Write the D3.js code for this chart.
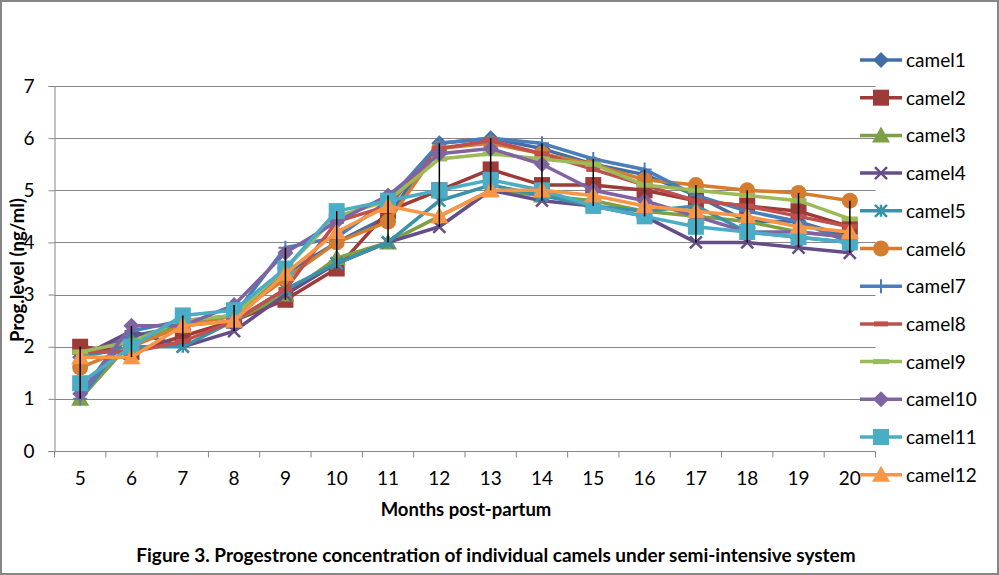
<!DOCTYPE html>
<html>
<head>
<meta charset="utf-8">
<script src="https://cdn.jsdelivr.net/npm/d3@7"></script>
<style>
  body { margin: 0; background: #fff; }
  text { font-family: Lato, "Open Sans", sans-serif; fill: #000; }
</style>
</head>
<body>
<div id="chart"></div>
<script>
// months post-partum
var months = [5, 6, 7, 8, 9, 10, 11, 12, 13, 14, 15, 16, 17, 18, 19, 20];
var yTicks = [0, 1, 2, 3, 4, 5, 6, 7];

// progesterone level (ng/ml) per camel
var camel1  = [1.8, 2.2, 2.4, 2.6, 3.4, 4.0, 4.5, 5.9, 6.0, 5.8, 5.5, 5.3, 4.9, 4.4, 4.4, 4.1];
var camel2  = [2.0, 1.9, 2.2, 2.5, 2.9, 3.5, 4.6, 5.0, 5.4, 5.1, 5.1, 5.0, 4.8, 4.7, 4.6, 4.3];
var camel3  = [1.0, 2.1, 2.4, 2.5, 3.0, 3.7, 4.0, 4.5, 5.0, 4.9, 4.8, 4.6, 4.5, 4.4, 4.2, 4.1];
var camel4  = [1.8, 2.3, 2.0, 2.3, 3.0, 3.6, 4.0, 4.3, 5.0, 4.8, 4.7, 4.5, 4.0, 4.0, 3.9, 3.8];
var camel5  = [1.8, 2.0, 2.0, 2.5, 3.1, 3.6, 4.0, 4.8, 5.1, 4.9, 4.7, 4.6, 4.7, 4.2, 4.1, 4.0];
var camel6  = [1.6, 2.0, 2.4, 2.6, 3.3, 4.0, 4.4, 5.8, 5.9, 5.7, 5.5, 5.2, 5.1, 5.0, 4.95, 4.8];
var camel7  = [1.0, 2.3, 2.5, 2.6, 3.9, 4.1, 4.8, 5.9, 6.0, 5.9, 5.6, 5.4, 4.9, 4.6, 4.4, 4.0];
var camel8  = [1.9, 1.9, 2.1, 2.5, 3.1, 4.4, 4.7, 5.8, 5.95, 5.7, 5.4, 5.1, 4.8, 4.7, 4.5, 4.3];
var camel9  = [1.9, 2.1, 2.5, 2.6, 3.5, 4.5, 4.8, 5.6, 5.7, 5.6, 5.5, 5.1, 5.0, 4.9, 4.8, 4.45];
var camel10 = [1.1, 2.4, 2.4, 2.8, 3.8, 4.4, 4.9, 5.7, 5.8, 5.5, 5.0, 4.8, 4.5, 4.2, 4.2, 4.1];
var camel11 = [1.3, 2.0, 2.6, 2.7, 3.5, 4.6, 4.8, 5.0, 5.2, 5.0, 4.7, 4.5, 4.3, 4.2, 4.1, 4.0];
var camel12 = [1.8, 1.8, 2.4, 2.5, 3.4, 4.2, 4.7, 4.5, 5.0, 5.0, 4.9, 4.7, 4.6, 4.5, 4.3, 4.2];

var names   = ["camel1", "camel2", "camel3", "camel4", "camel5", "camel6",
               "camel7", "camel8", "camel9", "camel10", "camel11", "camel12"];
var colors  = ["#426EA6", "#9E3A37", "#7F9F46", "#654E88", "#3A92A8", "#D47D31",
               "#4A7EBB", "#C0504D", "#9BBB59", "#8064A2", "#4BACC6", "#F79646"];
var markers = ["diamond", "square", "triangle", "x", "star", "circle",
               "plus", "dash", "longdash", "diamond", "square", "triangle"];

var allData = [camel1, camel2, camel3, camel4, camel5, camel6,
               camel7, camel8, camel9, camel10, camel11, camel12];

var w = 999;
var h = 575;

var svg = d3.select("#chart")
    .append("svg")
    .attr("width", w)
    .attr("height", h);

// chart border
svg.append("rect")
    .attr("x", 1).attr("y", 1)
    .attr("width", w - 2).attr("height", h - 2)
    .attr("fill", "#fff")
    .attr("stroke", "#868686")
    .attr("stroke-width", 2);

var plotLeft = 54.5, plotRight = 875.5, plotTop = 86, plotBottom = 451;

var x = d3.scaleBand().domain(months).range([plotLeft, plotRight]);
var cx = function (m) { return x(m) + x.bandwidth() / 2; };
var y = d3.scaleLinear().domain([0, 7]).range([plotBottom, plotTop]);

// gridlines
svg.append("g")
    .selectAll("line")
    .data(yTicks.filter(function (t) { return t > 0; }))
    .enter()
    .append("line")
    .attr("x1", plotLeft).attr("x2", plotRight)
    .attr("y1", function (d) { return Math.round(y(d)) + 0.5; })
    .attr("y2", function (d) { return Math.round(y(d)) + 0.5; })
    .attr("stroke", "#868686")
    .attr("stroke-width", 1);

// y axis
var yAxis = svg.append("g")
    .attr("transform", "translate(" + plotLeft + ",0)")
    .call(d3.axisLeft(y).tickValues(yTicks).tickFormat(d3.format("d")).tickSize(6).tickPadding(14));
yAxis.select(".domain").attr("stroke", "#868686");
yAxis.selectAll(".tick line").attr("stroke", "#868686");
yAxis.selectAll("text").attr("font-size", 19).attr("font-family", "Lato, sans-serif");

// x axis, ticks between the categories
var xAxisG = svg.append("g")
    .attr("transform", "translate(0," + (Math.round(plotBottom) + 0.5) + ")");
xAxisG.append("line")
    .attr("x1", plotLeft).attr("x2", plotRight)
    .attr("stroke", "#868686");
xAxisG.selectAll(".tk")
    .data(months.concat(["end"]))
    .enter()
    .append("line")
    .attr("x1", function (d, i) { return i < months.length ? x(d) : plotRight; })
    .attr("x2", function (d, i) { return i < months.length ? x(d) : plotRight; })
    .attr("y1", 0).attr("y2", 6)
    .attr("stroke", "#868686");
xAxisG.selectAll("text")
    .data(months)
    .enter()
    .append("text")
    .attr("x", function (d) { return cx(d); })
    .attr("y", 33)
    .attr("text-anchor", "middle")
    .attr("font-size", 19)
    .text(function (d) { return d; });

// marker drawing
function drawMarker(g, type, color) {
    var s;
    if (type == "diamond") {
        g.append("path").attr("d", "M0,-8L8,0L0,8L-8,0Z").attr("fill", color);
    } else if (type == "square") {
        g.append("rect").attr("x", -8).attr("y", -8).attr("width", 16).attr("height", 16).attr("fill", color);
    } else if (type == "triangle") {
        g.append("path").attr("d", "M0,-9L9,7L-9,7Z").attr("fill", color);
    } else if (type == "circle") {
        g.append("circle").attr("r", 8).attr("fill", color);
    } else if (type == "x") {
        s = 6;
        g.append("path").attr("d", "M" + -s + "," + -s + "L" + s + "," + s + "M" + -s + "," + s + "L" + s + "," + -s)
            .attr("stroke", color).attr("stroke-width", 2.5);
    } else if (type == "star") {
        s = 6;
        g.append("path").attr("d", "M" + -s + "," + -s + "L" + s + "," + s + "M" + -s + "," + s + "L" + s + "," + -s + "M0," + -s + "L0," + s)
            .attr("stroke", color).attr("stroke-width", 2.5);
    } else if (type == "plus") {
        s = 7;
        g.append("path").attr("d", "M" + -s + ",0L" + s + ",0M0," + -s + "L0," + s)
            .attr("stroke", color).attr("stroke-width", 2);
    } else if (type == "dash") {
        g.append("rect").attr("x", -7).attr("y", -2.5).attr("width", 14).attr("height", 5).attr("fill", color);
    } else if (type == "longdash") {
        g.append("rect").attr("x", -8).attr("y", -2.5).attr("width", 16).attr("height", 5).attr("fill", color);
    }
}

var line = d3.line()
    .x(function (d, i) { return cx(months[i]); })
    .y(function (d) { return y(d); });

var series = svg.append("g");
allData.forEach(function (vals, k) {
    var g = series.append("g");
    g.append("path")
        .attr("d", line(vals))
        .attr("fill", "none")
        .attr("stroke", colors[k])
        .attr("stroke-width", 3.5)
        .attr("stroke-linejoin", "round");
    vals.forEach(function (v, i) {
        var mg = g.append("g").attr("transform", "translate(" + cx(months[i]) + "," + y(v) + ")");
        drawMarker(mg, markers[k], colors[k]);
    });
});

// range bars (min to max of the camels at each month)
svg.append("g")
    .selectAll("line")
    .data(months)
    .enter()
    .append("line")
    .attr("x1", function (d) { return cx(d); })
    .attr("x2", function (d) { return cx(d); })
    .attr("y1", function (d, i) { return y(d3.min(allData, function (s) { return s[i]; })); })
    .attr("y2", function (d, i) { return y(d3.max(allData, function (s) { return s[i]; })); })
    .attr("stroke", "#000")
    .attr("stroke-width", 1.5);

// legend
var legend = svg.append("g");
names.forEach(function (n, k) {
    var ly = 60 + k * 37.7;
    var lg = legend.append("g");
    lg.append("line")
        .attr("x1", 860).attr("x2", 902)
        .attr("y1", ly).attr("y2", ly)
        .attr("stroke", colors[k])
        .attr("stroke-width", 3.5);
    var mg = lg.append("g").attr("transform", "translate(881," + ly + ")");
    drawMarker(mg, markers[k], colors[k]);
    lg.append("text")
        .attr("x", 906)
        .attr("y", ly + 7)
        .attr("font-size", 19)
        .text(n);
});

// titles
svg.append("text")
    .attr("x", 466).attr("y", 516)
    .attr("text-anchor", "middle")
    .attr("font-size", 18.5)
    .attr("font-weight", "bold")
    .text("Months post-partum");

svg.append("text")
    .attr("transform", "translate(24,270) rotate(-90)")
    .attr("text-anchor", "middle")
    .attr("font-size", 18.5)
    .attr("font-weight", "bold")
    .text("Prog.level (ng/ml)");

svg.append("text")
    .attr("x", 496).attr("y", 562)
    .attr("text-anchor", "middle")
    .attr("font-size", 19)
    .attr("font-weight", "bold")
    .text("Figure 3. Progestrone concentration of individual camels under semi-intensive system");
</script>
</body>
</html>
